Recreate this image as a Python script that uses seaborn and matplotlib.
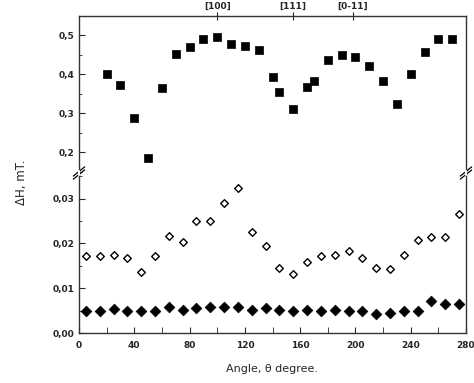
import numpy as np
import pandas as pd
import matplotlib
matplotlib.use("Agg")
import matplotlib.pyplot as plt
import seaborn as sns

# ---- data ----
sq_angle = [20, 30, 40, 50, 60, 70, 80, 90, 100, 110, 120, 130, 140, 145, 155,
            165, 170, 180, 190, 200, 210, 220, 230, 240, 250, 260, 270]
sq_dh = [0.400, 0.374, 0.289, 0.186, 0.364, 0.452, 0.471, 0.492, 0.497, 0.478,
         0.474, 0.462, 0.393, 0.355, 0.312, 0.368, 0.383, 0.437, 0.450, 0.446,
         0.422, 0.383, 0.325, 0.400, 0.457, 0.491, 0.492]

dm_angle = [5, 15, 25, 35, 45, 55, 65, 75, 85, 95, 105, 115, 125, 135, 145,
            155, 165, 175, 185, 195, 205, 215, 225, 235, 245, 255, 265, 275]
open_dh = [0.0171, 0.0171, 0.0174, 0.0168, 0.0135, 0.0171, 0.0217, 0.0203,
           0.0251, 0.0251, 0.0291, 0.0324, 0.0225, 0.0195, 0.0146, 0.0132,
           0.0158, 0.0171, 0.0174, 0.0183, 0.0168, 0.0146, 0.0143, 0.0174,
           0.0207, 0.0215, 0.0215, 0.0265]
fill_dh = [0.0048, 0.0048, 0.0054, 0.0048, 0.0048, 0.0048, 0.0059, 0.0051,
           0.0055, 0.0059, 0.0059, 0.0059, 0.0051, 0.0055, 0.0051, 0.0048,
           0.0051, 0.0048, 0.0051, 0.0048, 0.0048, 0.0042, 0.0045, 0.0048,
           0.0048, 0.0072, 0.0065, 0.0065]

x_ticks = [0, 40, 80, 120, 160, 200, 240, 280]
top_ticks_pos = [100, 155, 198]
top_ticks_lab = ["[100]", "[111]", "[0-11]"]
yt_top = [0.2, 0.3, 0.4, 0.5]
yt_bot = [0.00, 0.01, 0.02, 0.03]

sns.set_style("ticks")
plt.rcParams['font.family'] = ['DejaVu Sans']

fig = plt.figure(figsize=(4.74, 3.83), dpi=100)
L, R = 79 / 474, 466 / 474
y_top = 1 - 16 / 383
y_brk = 1 - 173 / 383
y_bot = 1 - 333 / 383
ax_t = fig.add_axes([L, y_brk, R - L, y_top - y_brk])
ax_b = fig.add_axes([L, y_bot, R - L, y_brk - y_bot])

df_sq = pd.DataFrame({"angle": sq_angle, "dh": sq_dh})
df_dm = pd.DataFrame({"angle": dm_angle, "open": open_dh, "fill": fill_dh})

sns.scatterplot(data=df_sq, x="angle", y="dh", ax=ax_t, marker="s", s=28,
                color="black", edgecolor="black", linewidth=0.5)
sns.scatterplot(data=df_dm, x="angle", y="open", ax=ax_b, marker="D", s=15,
                facecolor="white", edgecolor="black", linewidth=1.0)
sns.scatterplot(data=df_dm, x="angle", y="fill", ax=ax_b, marker="D", s=30,
                color="black", edgecolor="black", linewidth=0.5)

for ax in (ax_t, ax_b):
    ax.set_xlim(0, 280)
    ax.set_xlabel("")
    ax.set_ylabel("")
    for sp in ax.spines.values():
        sp.set_linewidth(1.0)
        sp.set_color("#333333")

ax_t.set_ylim(0.147, 0.55)
ax_b.set_ylim(0, 0.0357)

ax_t.spines["bottom"].set_visible(False)
ax_b.spines["top"].set_visible(False)

# ticks
ax_t.set_yticks(yt_top)
ax_t.set_yticklabels([f"{v:.1f}".replace(".", ",") for v in yt_top])
ax_t.set_yticks([0.15, 0.25, 0.35, 0.45], minor=True)
ax_t.tick_params(axis="y", which="both", direction="in", labelsize=6.5, length=4, right=False)
ax_t.tick_params(axis="y", which="minor", length=2)
ax_t.set_xticks(top_ticks_pos)
ax_t.set_xticklabels(top_ticks_lab)
ax_t.xaxis.tick_top()
ax_t.tick_params(axis="x", which="both", direction="inout", length=6, labelsize=6.5, pad=1)

ax_b.set_yticks(yt_bot)
ax_b.set_yticklabels([f"{v:.2f}".replace(".", ",") for v in yt_bot])
ax_b.set_yticks([0.005, 0.015, 0.025, 0.035], minor=True)
ax_b.tick_params(axis="y", which="both", direction="in", labelsize=6.5, length=4)
ax_b.tick_params(axis="y", which="minor", length=2)
ax_b.set_xticks(x_ticks)
ax_b.set_xticks(list(range(20, 280, 40)), minor=True)
ax_b.tick_params(axis="x", which="both", direction="in", labelsize=6.5, length=4, pad=6)
ax_b.tick_params(axis="x", which="minor", length=4)
for lab in ax_b.get_xticklabels() + ax_b.get_yticklabels() + ax_t.get_yticklabels() + ax_t.get_xticklabels():
    lab.set_fontweight("bold")

ax_b.set_xlabel("Angle, \u03b8 degree.", fontsize=8, labelpad=10)
fig.text(22 / 474, 1 - 182 / 383, "\u0394H, mT.", rotation=90,
         fontsize=8.5, va="center", ha="center")

# break marks
d = 0.012
kw = dict(transform=fig.transFigure, color="black", lw=0.9, clip_on=False)
for xb in (L, R):
    for off in (-0.004, 0.004):
        fig.add_artist(plt.Line2D([xb - 0.012, xb + 0.012],
                                  [y_brk + off - d, y_brk + off + d], **kw))
    fig.add_artist(plt.Line2D([xb, xb], [y_brk - 0.004, y_brk + 0.004],
                              transform=fig.transFigure, color="white", lw=1.5))

fig.savefig("out.png", dpi=100)
